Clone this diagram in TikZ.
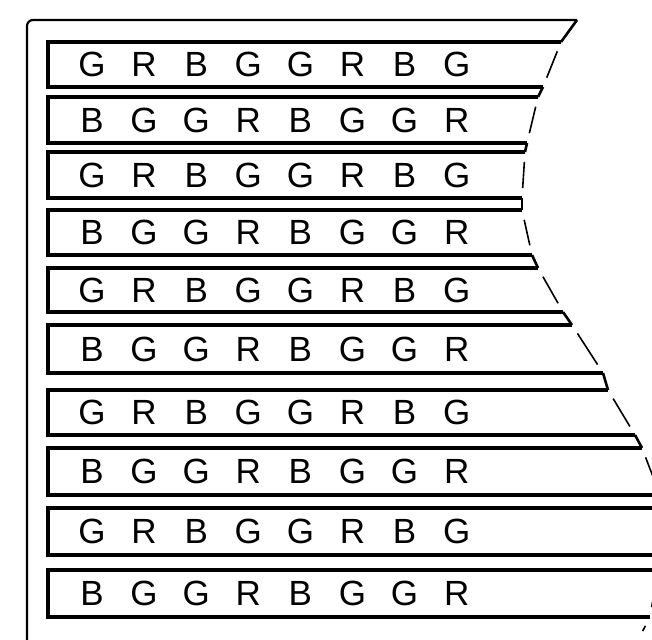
\documentclass[tikz,border=0pt]{standalone}
\usepackage{fontspec}
\setmainfont{Liberation Sans}
\usetikzlibrary{positioning}

\begin{document}
\begin{tikzpicture}[x=0.5pt, y=-0.5pt]
\tikzset{frame/.style = {line width=1.1pt}}
\tikzset{strip/.style = {line width=1.6pt}}
\tikzset{joint/.style = {line width=1.3pt}}
\tikzset{cut/.style = {line width=0.8pt, shorten <=5pt, shorten >=5pt}}
\tikzset{letter/.style = {inner sep=0pt, font=\fontsize{17.5}{17.5}\selectfont}}
\useasboundingbox (0,0) rectangle (652,640);
\clip (0,0) rectangle (652,640);
% outer frame
\coordinate (fbl) at (27,640);
\coordinate (ftl) at (27,20);
\coordinate (ftr) at (577,20);
\draw[frame, rounded corners=3pt] (fbl) -- (ftl) -- (ftr);
% strips
\foreach \r/\yt/\yb/\xt/\xb/\w in {
  1/42/87/561/543/{G,R,B,G,G,R,B,G},
  2/97/143/538/527/{B,G,G,R,B,G,G,R},
  3/152/198/525/522/{G,R,B,G,G,R,B,G},
  4/210/255/522/532/{B,G,G,R,B,G,G,R},
  5/268/312/538/563/{G,R,B,G,G,R,B,G},
  6/325/373/572/603/{B,G,G,R,B,G,G,R},
  7/390/435/608/635/{G,R,B,G,G,R,B,G},
  8/448/495/642/660/{B,G,G,R,B,G,G,R},
  9/508/555/665/665/{G,R,B,G,G,R,B,G},
  10/570/617/658/650/{B,G,G,R,B,G,G,R}}{
  \coordinate (r\r-tl) at (48,\yt);
  \coordinate (r\r-bl) at (48,\yb);
  \coordinate (r\r-tr) at (\xt,\yt);
  \coordinate (r\r-br) at (\xb,\yb);
  \draw[strip] (r\r-tr) -- (r\r-tl) -- (r\r-bl) -- (r\r-br);
  \draw[cut] (r\r-tr) -- (r\r-br);
  \foreach \c [count=\k] in \w
    \node[letter] (l\r-\k) at ({92+52.1*(\k-1)},{(\yt+\yb)/2}) {\c};
}
% break line
\coordinate (end) at (638,640);
\draw[joint] (ftr) -- (r1-tr);
\foreach \a [count=\b from 2] in {1,...,9}
  \draw[joint] (r\a-br) -- (r\b-tr);
\draw[cut] (r10-br) -- (end);
\end{tikzpicture}
\end{document}
